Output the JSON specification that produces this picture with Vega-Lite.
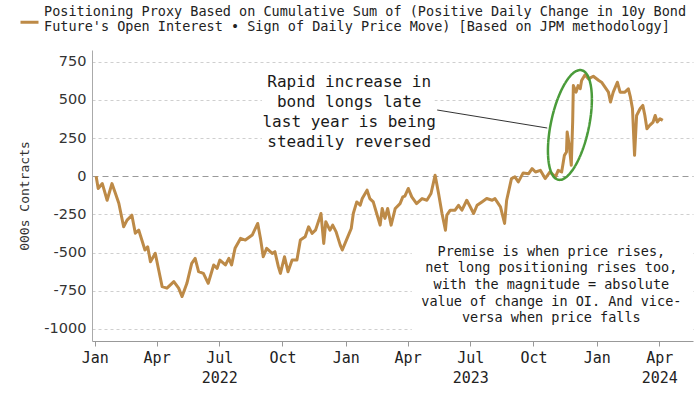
{
  "$schema": "https://vega.github.io/schema/vega-lite/v6.json",
  "width": 601,
  "height": 291,
  "autosize": {"type": "none"},
  "padding": {"left": 92, "top": 50, "right": 7, "bottom": 53},
  "background": "white",
  "config": {"view": {"stroke": null}, "font": "DejaVu Sans Mono"},
  "datasets": {
    "series": [
      {"date": "2022-01-03", "value": 0},
      {"date": "2022-01-06", "value": -80},
      {"date": "2022-01-12", "value": -48},
      {"date": "2022-01-19", "value": -157},
      {"date": "2022-01-26", "value": -48},
      {"date": "2022-01-31", "value": -111},
      {"date": "2022-02-05", "value": -177},
      {"date": "2022-02-12", "value": -331},
      {"date": "2022-02-17", "value": -287},
      {"date": "2022-02-24", "value": -255},
      {"date": "2022-03-01", "value": -373},
      {"date": "2022-03-06", "value": -353},
      {"date": "2022-03-15", "value": -483},
      {"date": "2022-03-19", "value": -462},
      {"date": "2022-03-23", "value": -560},
      {"date": "2022-03-30", "value": -505},
      {"date": "2022-04-04", "value": -614},
      {"date": "2022-04-09", "value": -723},
      {"date": "2022-04-16", "value": -733},
      {"date": "2022-04-26", "value": -690},
      {"date": "2022-05-03", "value": -733},
      {"date": "2022-05-08", "value": -788},
      {"date": "2022-05-15", "value": -701},
      {"date": "2022-05-22", "value": -570},
      {"date": "2022-05-27", "value": -538},
      {"date": "2022-06-01", "value": -625},
      {"date": "2022-06-08", "value": -636},
      {"date": "2022-06-15", "value": -701},
      {"date": "2022-06-23", "value": -581},
      {"date": "2022-06-28", "value": -603},
      {"date": "2022-07-02", "value": -549},
      {"date": "2022-07-10", "value": -581},
      {"date": "2022-07-15", "value": -538},
      {"date": "2022-07-19", "value": -581},
      {"date": "2022-07-24", "value": -472},
      {"date": "2022-08-01", "value": -407},
      {"date": "2022-08-08", "value": -418},
      {"date": "2022-08-18", "value": -385},
      {"date": "2022-08-26", "value": -309},
      {"date": "2022-08-30", "value": -407},
      {"date": "2022-09-03", "value": -527},
      {"date": "2022-09-08", "value": -472},
      {"date": "2022-09-16", "value": -505},
      {"date": "2022-09-20", "value": -494},
      {"date": "2022-09-25", "value": -592},
      {"date": "2022-09-28", "value": -636},
      {"date": "2022-10-04", "value": -527},
      {"date": "2022-10-09", "value": -625},
      {"date": "2022-10-15", "value": -549},
      {"date": "2022-10-22", "value": -549},
      {"date": "2022-10-27", "value": -418},
      {"date": "2022-11-03", "value": -396},
      {"date": "2022-11-08", "value": -331},
      {"date": "2022-11-13", "value": -374},
      {"date": "2022-11-18", "value": -353},
      {"date": "2022-11-23", "value": -287},
      {"date": "2022-11-26", "value": -244},
      {"date": "2022-11-30", "value": -440},
      {"date": "2022-12-03", "value": -298},
      {"date": "2022-12-09", "value": -353},
      {"date": "2022-12-13", "value": -320},
      {"date": "2022-12-18", "value": -364},
      {"date": "2022-12-24", "value": -451},
      {"date": "2022-12-27", "value": -483},
      {"date": "2023-01-03", "value": -407},
      {"date": "2023-01-09", "value": -342},
      {"date": "2023-01-12", "value": -244},
      {"date": "2023-01-17", "value": -168},
      {"date": "2023-01-22", "value": -190},
      {"date": "2023-01-25", "value": -146},
      {"date": "2023-02-01", "value": -91},
      {"date": "2023-02-05", "value": -146},
      {"date": "2023-02-10", "value": -168},
      {"date": "2023-02-15", "value": -244},
      {"date": "2023-02-20", "value": -320},
      {"date": "2023-02-23", "value": -211},
      {"date": "2023-02-27", "value": -276},
      {"date": "2023-03-03", "value": -211},
      {"date": "2023-03-08", "value": -320},
      {"date": "2023-03-14", "value": -211},
      {"date": "2023-03-21", "value": -179},
      {"date": "2023-03-25", "value": -135},
      {"date": "2023-03-28", "value": -130},
      {"date": "2023-04-02", "value": -80},
      {"date": "2023-04-07", "value": -135},
      {"date": "2023-04-14", "value": -179},
      {"date": "2023-04-22", "value": -146},
      {"date": "2023-04-29", "value": -157},
      {"date": "2023-05-05", "value": -113},
      {"date": "2023-05-11", "value": 7},
      {"date": "2023-05-16", "value": -113},
      {"date": "2023-05-21", "value": -244},
      {"date": "2023-05-26", "value": -353},
      {"date": "2023-05-28", "value": -255},
      {"date": "2023-06-02", "value": -222},
      {"date": "2023-06-09", "value": -222},
      {"date": "2023-06-14", "value": -190},
      {"date": "2023-06-19", "value": -222},
      {"date": "2023-06-26", "value": -157},
      {"date": "2023-07-01", "value": -200},
      {"date": "2023-07-06", "value": -244},
      {"date": "2023-07-11", "value": -190},
      {"date": "2023-07-18", "value": -168},
      {"date": "2023-07-25", "value": -146},
      {"date": "2023-08-02", "value": -157},
      {"date": "2023-08-06", "value": -146},
      {"date": "2023-08-14", "value": -200},
      {"date": "2023-08-20", "value": -309},
      {"date": "2023-08-23", "value": -157},
      {"date": "2023-08-30", "value": -15},
      {"date": "2023-09-04", "value": -4},
      {"date": "2023-09-09", "value": -37},
      {"date": "2023-09-16", "value": 22},
      {"date": "2023-09-24", "value": 17},
      {"date": "2023-09-29", "value": 50},
      {"date": "2023-10-04", "value": 28},
      {"date": "2023-10-11", "value": 39},
      {"date": "2023-10-18", "value": -15},
      {"date": "2023-10-25", "value": 28},
      {"date": "2023-11-02", "value": -4},
      {"date": "2023-11-06", "value": 39},
      {"date": "2023-11-11", "value": 28},
      {"date": "2023-11-15", "value": 137},
      {"date": "2023-11-18", "value": 159},
      {"date": "2023-11-19", "value": 290},
      {"date": "2023-11-22", "value": 203},
      {"date": "2023-11-25", "value": 72},
      {"date": "2023-11-27", "value": 355},
      {"date": "2023-11-28", "value": 594},
      {"date": "2023-12-02", "value": 551},
      {"date": "2023-12-05", "value": 594},
      {"date": "2023-12-08", "value": 573},
      {"date": "2023-12-10", "value": 627},
      {"date": "2023-12-15", "value": 665},
      {"date": "2023-12-20", "value": 638},
      {"date": "2023-12-27", "value": 655},
      {"date": "2024-01-04", "value": 627},
      {"date": "2024-01-08", "value": 616},
      {"date": "2024-01-13", "value": 584},
      {"date": "2024-01-18", "value": 551},
      {"date": "2024-01-21", "value": 486},
      {"date": "2024-01-25", "value": 551},
      {"date": "2024-01-31", "value": 616},
      {"date": "2024-02-04", "value": 551},
      {"date": "2024-02-11", "value": 551},
      {"date": "2024-02-16", "value": 573},
      {"date": "2024-02-19", "value": 518},
      {"date": "2024-02-22", "value": 442},
      {"date": "2024-02-25", "value": 137},
      {"date": "2024-02-28", "value": 398},
      {"date": "2024-03-04", "value": 442},
      {"date": "2024-03-08", "value": 464},
      {"date": "2024-03-11", "value": 398},
      {"date": "2024-03-14", "value": 311},
      {"date": "2024-03-18", "value": 333},
      {"date": "2024-03-23", "value": 355},
      {"date": "2024-03-26", "value": 398},
      {"date": "2024-03-29", "value": 355},
      {"date": "2024-04-02", "value": 377},
      {"date": "2024-04-06", "value": 366}
    ],
    "boxes": [
      {"date": "2022-09-01", "date2": "2023-05-10", "value": 735, "value2": 159},
      {"date": "2023-04-07", "date2": "2024-05-20", "value": -430, "value2": -1079}
    ],
    "arrow": [
      {"date": "2023-05-14", "date2": "2023-10-21", "value": 434, "value2": 316}
    ],
    "ellipse": [
      {"date": "2023-11-23", "value": 336}
    ],
    "note1": [
      {"date": "2023-01-06", "value": 619, "label": "Rapid increase in\nbond longs late\nlast year is being\nsteadily reversed"}
    ],
    "note2": [
      {"date": "2023-10-27", "value": -494, "label": "Premise is when price rises,\nnet long positioning rises too,\nwith the magnitude = absolute\nvalue of change in OI. And vice-\nversa when price falls"}
    ]
  },
  "encoding": {
    "x": {
      "field": "date",
      "type": "temporal",
      "scale": {"domain": [{"year": 2021, "month": 12, "date": 28}, {"year": 2024, "month": 5, "date": 20}]},
      "axis": {
        "title": null,
        "grid": false,
        "tickCount": {"interval": "month", "step": 3},
        "domainColor": "#999999",
        "tickColor": "#999999",
        "tickSize": 5,
        "labelFont": "DejaVu Sans Mono",
        "labelFontSize": 15,
        "labelColor": "#222222",
        "labelPadding": 4,
        "labelLineHeight": 20,
        "labelFlush": false,
        "labelOverlap": false,
        "labelExpr": "((month(datum.value) == 6 && year(datum.value) < 2024) || (month(datum.value) == 3 && year(datum.value) == 2024)) ? [timeFormat(datum.value, '%b'), timeFormat(datum.value, '%Y')] : timeFormat(datum.value, '%b')"
      }
    },
    "y": {
      "field": "value",
      "type": "quantitative",
      "scale": {"domain": [-1079, 827], "nice": false, "zero": false},
      "axis": {
        "title": "000s Contracts",
        "titleFont": "DejaVu Sans Mono",
        "titleFontSize": 13,
        "titleFontWeight": "normal",
        "titleColor": "#333333",
        "titlePadding": 12,
        "values": [-1000, -750, -500, -250, 0, 250, 500, 750],
        "labelExpr": "datum.value + ''",
        "grid": true,
        "gridColor": {"condition": {"test": "datum.value === 0", "value": "#9a9a9a"}, "value": "#cfcfcf"},
        "gridDash": {"condition": {"test": "datum.value === 0", "value": [6, 4]}, "value": [3, 3]},
        "gridWidth": 1,
        "ticks": false,
        "domainColor": "#aaaaaa",
        "labelFont": "DejaVu Sans",
        "labelFontSize": 14.5,
        "labelColor": "#333333",
        "labelPadding": 6
      }
    }
  },
  "layer": [
    {
      "data": {"name": "boxes"},
      "mark": {"type": "rect", "fill": "white", "stroke": null},
      "encoding": {"x2": {"field": "date2"}, "y2": {"field": "value2"}}
    },
    {
      "data": {"name": "series"},
      "mark": {"type": "line", "strokeWidth": 3, "strokeJoin": "round"},
      "encoding": {
        "color": {
          "datum": "Positioning Proxy",
          "scale": {"range": ["#bd8a47"]},
          "legend": {
            "orient": "none",
            "legendX": -73,
            "legendY": -41,
            "padding": 0,
            "title": null,
            "symbolType": "stroke",
            "symbolSize": 324,
            "symbolStrokeWidth": 3,
            "symbolOpacity": 0,
            "labelOffset": 4,
            "labelLimit": 0,
            "labelBaseline": "line-bottom",
            "labelFont": "DejaVu Sans Mono",
            "labelFontSize": 13.5,
            "labelColor": "#222222",
            "labelExpr": "['Positioning Proxy Based on Cumulative Sum of (Positive Daily Change in 10y Bond', 'Future\\'s Open Interest • Sign of Daily Price Move) [Based on JPM methodology]']"
          }
        }
      }
    },
    {
      "data": {"name": "arrow"},
      "mark": {"type": "rule", "color": "#333333", "strokeWidth": 1},
      "encoding": {"x2": {"field": "date2"}, "y2": {"field": "value2"}}
    },
    {
      "data": {"name": "ellipse"},
      "mark": {
        "type": "point",
        "shape": "M0,-1A0.34,1,0,1,1,0,1A0.34,1,0,1,1,0,-1Z",
        "size": 12544,
        "angle": 12,
        "filled": false,
        "stroke": "#4a9b3a",
        "strokeWidth": 2.5,
        "opacity": 1
      },
      "encoding": {
        "strokeDash": {
          "datum": "swatch",
          "scale": {"range": [[1, 0]]},
          "legend": {
            "orient": "none",
            "legendX": -73,
            "legendY": -38.3,
            "padding": 0,
            "title": null,
            "symbolType": "stroke",
            "symbolSize": 324,
            "symbolStrokeWidth": 3,
            "symbolStrokeColor": "#bd8a47",
            "symbolDash": [1, 0],
            "labelExpr": "''",
            "labelFontSize": 13.5
          }
        }
      }
    },
    {
      "data": {"name": "note1"},
      "mark": {"type": "text", "font": "DejaVu Sans Mono", "fontSize": 16, "lineHeight": 20, "lineBreak": "\n", "align": "center", "baseline": "middle", "color": "#1a1a1a"},
      "encoding": {"text": {"field": "label"}}
    },
    {
      "data": {"name": "note2"},
      "mark": {"type": "text", "font": "DejaVu Sans Mono", "fontSize": 13.5, "lineHeight": 16.7, "lineBreak": "\n", "align": "center", "baseline": "middle", "color": "#1a1a1a"},
      "encoding": {"text": {"field": "label"}}
    }
  ]
}
